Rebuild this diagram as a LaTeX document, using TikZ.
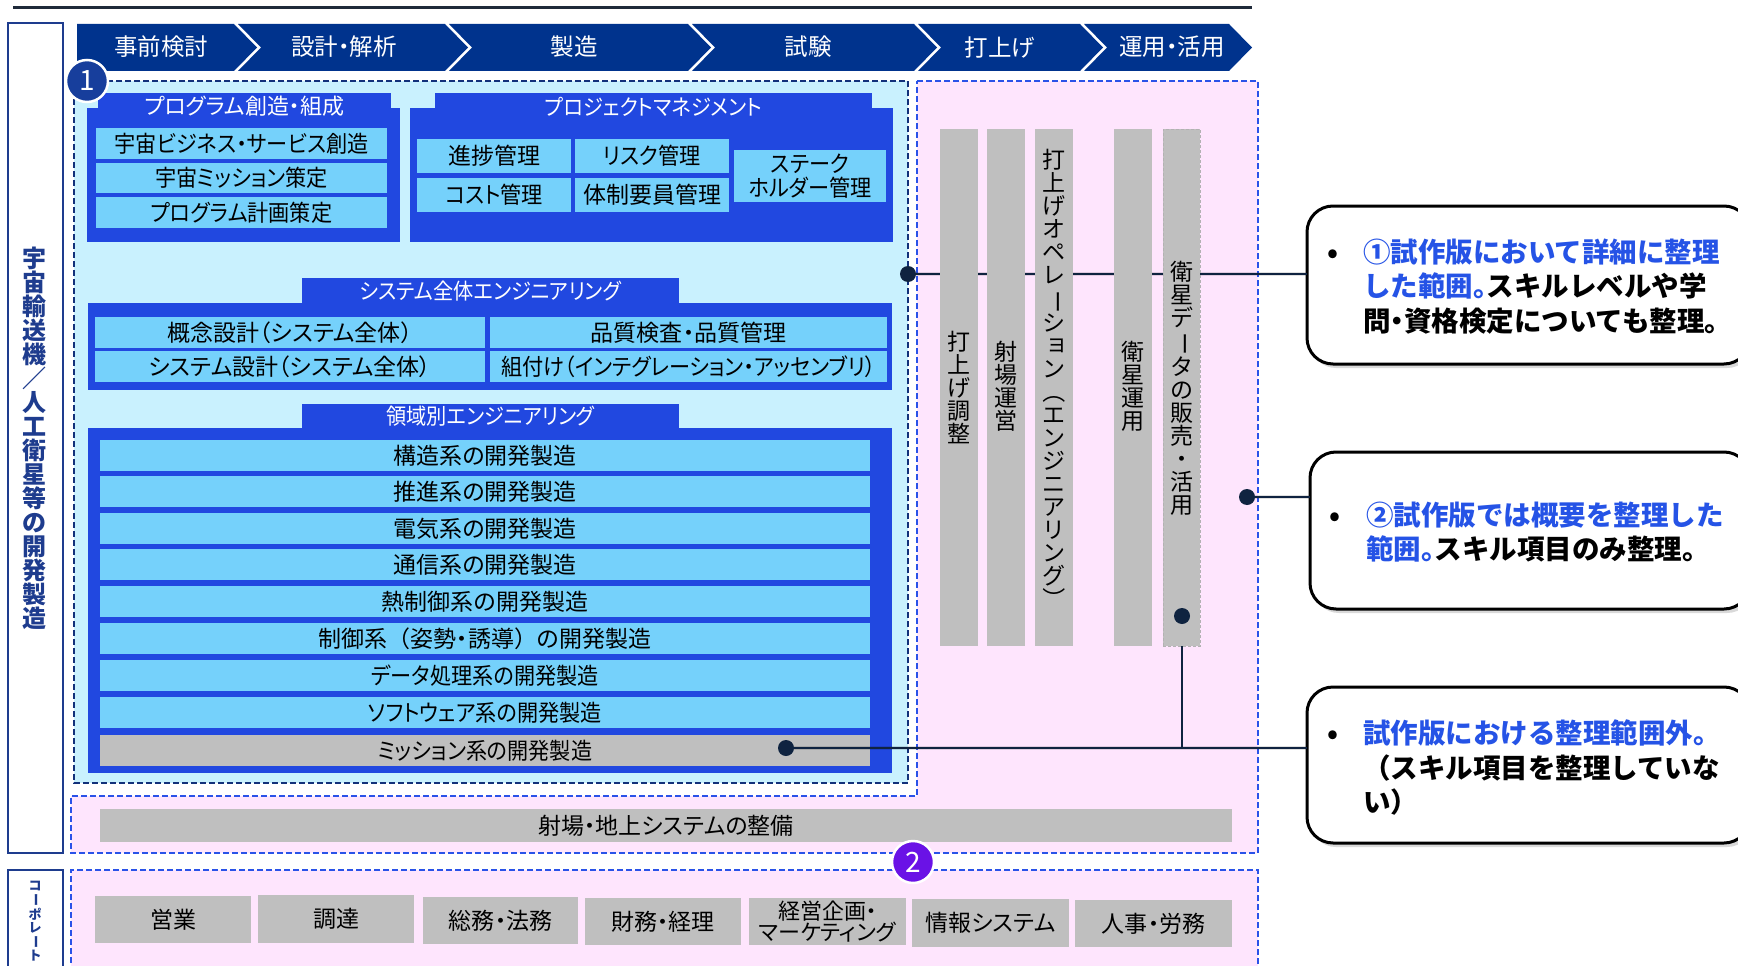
\documentclass[tikz,border=0pt]{standalone}
\usepackage{fontspec}
\usepackage{graphicx}
\setmainfont{Noto Sans CJK JP}
\newfontfamily\jpp[RawFeature=+palt]{Noto Sans CJK JP}
\newfontfamily\jpc[RawFeature=+palt, FakeStretch=0.92]{Noto Sans CJK JP}
\usetikzlibrary{shadows}

\definecolor{chev}{HTML}{00338D}
\definecolor{cyanbg}{HTML}{C9F1FE}
\definecolor{pinkbg}{HTML}{FEE5FD}
\definecolor{boxblue}{HTML}{2148E0}
\definecolor{itemc}{HTML}{75D1FB}
\definecolor{grayc}{HTML}{BFBFBF}
\definecolor{dashnavy}{HTML}{12317A}
\definecolor{dashblue}{HTML}{2A52E8}
\definecolor{circa}{HTML}{173E9C}
\definecolor{circb}{HTML}{6A12E6}
\definecolor{dotc}{HTML}{0F2340}
\definecolor{leftnavy}{HTML}{1E3C8E}
\definecolor{cblue}{HTML}{2553E6}
\definecolor{topline}{HTML}{1F2A3A}

\pgfdeclarelayer{conn}
\pgfdeclarelayer{front}
\pgfsetlayers{main,conn,front}

\newcommand{\BX}[7]{\node[#1, minimum width={#5-#3}, minimum height={#6-#4}] (#2) at ({(#3+#5)/2},{(#4+#6)/2}) {#7};}
% vertical-writing helpers
\newcommand{\VL}{\rotatebox[origin=c]{-90}{ー}}
\newcommand{\VPL}{\rotatebox[origin=c]{-90}{（}}
\newcommand{\VPR}{\rotatebox[origin=c]{-90}{）}}
\newcommand{\SK}[1]{\makebox[1em]{\hspace{0.22em}\raisebox{0.14em}{#1}}}
\newcommand{\NP}[1]{{\jpp\bfseries #1}}
\newcommand{\FP}[1]{{\normalfont #1}}

\tikzset{
  every node/.style={inner sep=0pt, outer sep=0pt},
  blk/.style={rectangle, fill=boxblue},
  ttl/.style={blk, text=white, font=\jpp\fontsize{22}{24}\selectfont},
  cttl/.style={blk, text=white, font=\jpc\fontsize{22}{24}\selectfont},
  itm/.style={rectangle, fill=itemc, text=black, font=\jpp\fontsize{23}{24}\selectfont},
  cond/.style={font=\jpc\fontsize{23}{24}\selectfont},
  gitm/.style={rectangle, fill=grayc, text=black, font=\jpp\fontsize{23}{22}\selectfont},
  bar/.style={rectangle, fill=grayc},
  vtxt/.style={align=center, text=black, font=\fontsize{23}{23}\selectfont},
  chevtxt/.style={text=white, font=\jpp\fontsize{23.5}{24}\selectfont},
  chevshape/.style={fill=chev},
  dotn/.style={circle, fill=dotc, minimum size=16pt},
  callout/.style={rectangle, rounded corners=26pt, draw=black, line width=3pt, fill=white,
    drop shadow={opacity=0.3, shadow xshift=3pt, shadow yshift=-4pt}},
  ctx/.style={anchor=base west, text=black, font=\bfseries\fontsize{27.5}{30}\selectfont},
  bul/.style={anchor=base, text=black, font=\bfseries\fontsize{27.5}{30}\selectfont},
  conline/.style={draw=dotc, line width=1.4pt},
  conshadow/.style={draw=black, opacity=0.12, line width=4pt},
  numc/.style={circle, draw=white, line width=2.5pt, minimum size=42pt, text=white, font=\fontsize{28}{28}\selectfont},
  regdash/.style={line width=2pt, dash pattern=on 6pt off 3pt},
}

\begin{document}
\begin{tikzpicture}[x=1pt, y=-1pt]
\useasboundingbox (0,0) rectangle (1738,966);

% top rule
\draw[topline, line width=3pt] (13,8) -- (1252,8);

% chevrons
\fill[chevshape] (77,24) -- (234,24) -- (257,47.5) -- (234,71) -- (77,71) -- cycle;
\fill[chevshape] (238,24) -- (445,24) -- (468,47.5) -- (445,71) -- (238,71) -- (261,47.5) -- cycle;
\fill[chevshape] (449,24) -- (688,24) -- (711,47.5) -- (688,71) -- (449,71) -- (472,47.5) -- cycle;
\fill[chevshape] (692,24) -- (914,24) -- (937,47.5) -- (914,71) -- (692,71) -- (715,47.5) -- cycle;
\fill[chevshape] (918,24) -- (1080,24) -- (1103,47.5) -- (1080,71) -- (918,71) -- (941,47.5) -- cycle;
\fill[chevshape] (1084,24) -- (1229,24) -- (1252,47.5) -- (1229,71) -- (1084,71) -- (1107,47.5) -- cycle;
\node[chevtxt] (ch1) at (161,47) {事前検討};
\node[chevtxt] (ch2) at (344,47) {設計・解析};
\node[chevtxt] (ch3) at (574,47) {製造};
\node[chevtxt] (ch4) at (808,47) {試験};
\node[chevtxt] (ch5) at (1000,47) {打上げ};
\node[chevtxt] (ch6) at (1172,47) {運用・活用};

% left label boxes
\draw[leftnavy, line width=2.5pt, fill=white] (8,23) rectangle (63,853);
\draw[leftnavy, line width=2.5pt, fill=white] (8,870) rectangle (63,990);
\node[align=center, text=leftnavy, font=\bfseries\fontsize{24}{24}\selectfont] (lbl) at (35,438)
  {宇\\宙\\輸\\送\\機\\／\\人\\工\\衛\\星\\等\\の\\開\\発\\製\\造};
\node[align=center, text=leftnavy, font=\bfseries\fontsize{13}{13}\selectfont] (corp) at (35,921)
  {コ\\\VL\\ポ\\レ\\\VL\\ト};

% regions
\fill[cyanbg] (74,81) rectangle (908,783);
\draw[dashnavy, regdash] (74,81) rectangle (908,783);
\fill[pinkbg] (917,81) -- (1258,81) -- (1258,853) -- (71,853) -- (71,796) -- (917,796) -- cycle;
\draw[dashblue, regdash] (917,81) -- (1258,81) -- (1258,853) -- (71,853) -- (71,796) -- (917,796) -- cycle;
\fill[pinkbg] (71,870) rectangle (1258,990);
\draw[dashblue, regdash] (71,990) -- (71,870) -- (1258,870) -- (1258,990);

% program box
\BX{blk}{progbody}{87}{108}{400}{242}{}
\BX{ttl}{progttl}{98}{93}{391}{120}{プログラム創造・組成}
\BX{itm, cond}{p1}{96}{128}{387}{159}{宇宙ビジネス・サービス創造}
\BX{itm, cond}{p2}{96}{163}{387}{193}{宇宙ミッション策定}
\BX{itm, cond}{p3}{96}{197}{387}{228}{プログラム計画策定}

% project management box
\BX{blk}{pmbody}{410}{108}{893}{242}{}
\BX{cttl}{pmttl}{435}{93}{872}{120}{プロジェクトマネジメント}
\BX{itm}{pm1}{417}{139}{571}{173}{進捗管理}
\BX{itm, cond}{pm2}{575}{139}{729}{173}{リスク管理}
\BX{itm, cond}{pm3}{417}{178}{571}{212}{コスト管理}
\BX{itm}{pm4}{575}{178}{729}{212}{体制要員管理}
\BX{itm, cond, align=center}{pm5}{734}{150}{886}{202}{ステーク\\ホルダー管理}

% system engineering
\BX{blk}{sebody}{88}{303}{892}{390}{}
\BX{cttl}{settl}{302}{278}{679}{304}{システム全体エンジニアリング}
\BX{itm}{se1}{95}{317}{485}{348}{概念設計（システム全体）}
\BX{itm}{se2}{490}{317}{887}{348}{品質検査・品質管理}
\BX{itm}{se3}{95}{351}{485}{382}{システム設計（システム全体）}
\BX{itm, cond}{se4}{490}{351}{887}{382}{組付け（インテグレーション・アッセンブリ）}

% domain engineering
\BX{blk}{debody}{88}{428}{892}{773}{}
\BX{cttl}{dettl}{302}{404}{679}{429}{領域別エンジニアリング}
\BX{itm}{de1}{100}{440}{870}{471}{構造系の開発製造}
\BX{itm}{de2}{100}{476}{870}{507}{推進系の開発製造}
\BX{itm}{de3}{100}{513}{870}{544}{電気系の開発製造}
\BX{itm}{de4}{100}{549}{870}{580}{通信系の開発製造}
\BX{itm}{de5}{100}{586}{870}{617}{熱制御系の開発製造}
\BX{itm}{de6}{100}{623}{870}{654}{制御系\FP{（}姿勢・誘導\FP{）}の開発製造}
\BX{itm, cond}{de7}{100}{660}{870}{691}{データ処理系の開発製造}
\BX{itm, cond}{de8}{100}{697}{870}{728}{ソフトウェア系の開発製造}
\BX{gitm, cond}{de9}{100}{735}{870}{766}{ミッション系の開発製造}

% launch site bar
\BX{gitm}{site}{100}{809}{1232}{842}{射場・地上システムの整備}

% corporate items
\BX{gitm}{k1}{95}{896}{251}{943}{営業}
\BX{gitm}{k2}{258}{895}{414}{943}{調達}
\BX{gitm}{k3}{423}{897}{578}{944}{総務・法務}
\BX{gitm}{k4}{585}{898}{741}{945}{財務・経理}
\BX{gitm, align=center, font=\jpp\fontsize{22}{20}\selectfont}{k5}{749}{898}{906}{945}{経営企画・\\マーケティング}
\BX{gitm}{k6}{912}{899}{1069}{947}{情報システム}
\BX{gitm}{k7}{1075}{900}{1232}{947}{人事・労務}

% number circles
\node[numc, fill=circa] (n1) at (87,81) {1};
\node[numc, fill=circb] (n2) at (913,862) {2};

% callouts
\BX{callout}{c1}{1307}{206}{1750}{364}{}
\BX{callout}{c2}{1310}{452}{1750}{609}{}
\BX{callout}{c3}{1307}{687}{1750}{843}{}
\node[bul] (b1) at (1333,262) {•};
\node[ctx] (c1a) at (1363,262) {\textcolor{cblue}{①試作版において詳細に整理}};
\node[ctx] (c1b) at (1363,296) {\textcolor{cblue}{した範囲\NP{。}}スキルレベルや学};
\node[ctx] (c1c) at (1363,331) {問\NP{・}資格検定についても整理\NP{。}};
\node[bul] (b2) at (1335,525) {•};
\node[ctx] (c2a) at (1366,525) {\textcolor{cblue}{②試作版では概要を整理した}};
\node[ctx] (c2b) at (1366,559) {\textcolor{cblue}{範囲\NP{。}}スキル項目のみ整理。};
\node[bul] (b3) at (1333,743) {•};
\node[ctx] (c3a) at (1363,743) {\textcolor{cblue}{試作版における整理範囲外。}};
\node[ctx] (c3b) at (1363,778) {（スキル項目を整理していな};
\node[ctx] (c3c) at (1363,812) {い）};

% front layer: bars, texts, dots
\begin{pgfonlayer}{front}
\BX{bar}{v1}{940}{129}{978}{646}{}
\BX{bar}{v2}{987}{129}{1025}{646}{}
\BX{bar}{v3}{1035}{129}{1073}{646}{}
\BX{bar}{v4}{1114}{129}{1152}{646}{}
\BX{bar, draw=black!30, densely dashed, line width=0.6pt}{v5}{1163}{129}{1200}{646}{}
\node[vtxt] (vt1) at (959,388) {打\\上\\げ\\調\\整};
\node[vtxt] (vt2) at (1006,386) {射\\場\\運\\営};
\node[vtxt] (vt3) at (1054,380) {打\\上\\げ\\オ\\ペ\\レ\\\VL\\シ\\\SK{ョ}\\ン\\\VPL\\エ\\ン\\ジ\\ニ\\ア\\リ\\ン\\グ\\\VPR};
\node[vtxt] (vt4) at (1133,386) {衛\\星\\運\\用};
\node[vtxt] (vt5) at (1181.5,388) {衛\\星\\デ\\\VL\\タ\\の\\販\\売\\・\\活\\用};
\node[dotn] (d1) at (908,274) {};
\node[dotn] (d2) at (1247,497) {};
\node[dotn] (d3) at (786,748) {};
\node[dotn] (d4) at (1182,616) {};
\end{pgfonlayer}

% connectors
\begin{pgfonlayer}{conn}
\draw[conshadow, yshift=-3pt] (d1) -- (d1 -| c1.west);
\draw[conshadow, yshift=-3pt] (d2) -- (d2 -| c2.west);
\draw[conshadow, yshift=-3pt] (d3) -- (d3 -| c3.west);
\draw[conline] (d1.center) -- (d1 -| c1.west);
\draw[conline] (d2.center) -- (d2 -| c2.west);
\draw[conline] (d3.center) -- (d3 -| c3.west);
\draw[conline] (d4.center) -- (d4 |- d3);
\end{pgfonlayer}
\end{tikzpicture}
\end{document}
